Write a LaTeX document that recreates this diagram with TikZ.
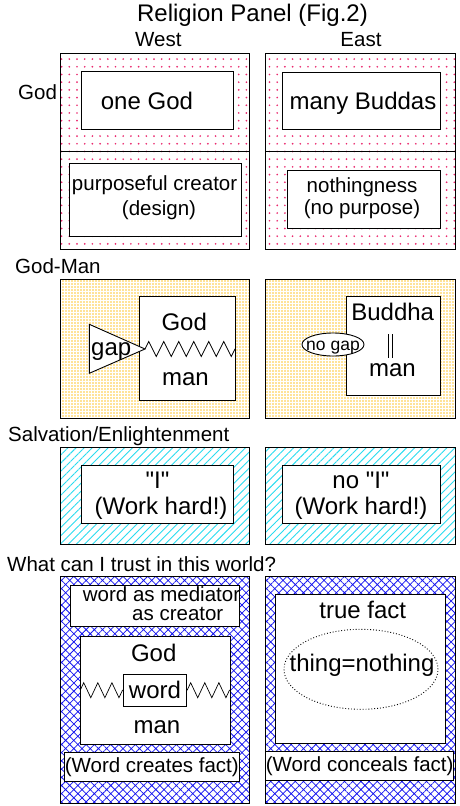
\documentclass[tikz,border=0pt]{standalone}
\usepackage{fontspec}
\setmainfont{Liberation Sans}[Ligatures=TeXOff]
\usepackage{tikz}
\usetikzlibrary{positioning}
\usetikzlibrary{shapes.geometric}
\usetikzlibrary{patterns.meta}
\usetikzlibrary{decorations.pathmorphing}

\definecolor{dotpink}{RGB}{235,40,110}
\definecolor{dotgold}{RGB}{255,200,50}
\definecolor{hatchcyan}{RGB}{40,220,240}
\definecolor{hatchblue}{RGB}{20,20,240}

\newcommand{\fbig}{\fontsize{24}{27}\selectfont}
\newcommand{\fmid}{\fontsize{20.5}{24}\selectfont}
\newcommand{\fsml}{\fontsize{17.5}{20}\selectfont}

\tikzset{
	panel/.style={draw=black,line width=0.9pt},
	pinkdots/.style={pattern={Dots[distance=7.7pt,radius=0.95pt]},pattern color=dotpink},
	golddots/.style={pattern={Dots[distance=3pt,radius=0.8pt]},pattern color=dotgold},
	cyanlines/.style={pattern={Lines[angle=45,distance=5.7pt,line width=0.9pt]},pattern color=hatchcyan},
	bluehatch/.style={pattern={Hatch[angle=45,distance=5.8pt,line width=0.75pt]},pattern color=hatchblue},
	box/.style={draw=black,fill=white,line width=0.9pt,inner sep=0pt},
	txt/.style={inner sep=0pt,anchor=base},
	zz/.style={line width=0.7pt,decorate,decoration={zigzag,segment length=#1,amplitude=7.5pt}},
}

\begin{document}
\begin{tikzpicture}[x=1pt,y=-1pt]
	\useasboundingbox[fill=white] (0,0) rectangle (459,806);

	% titles
	\node[txt] (title) at (252.5,21.5) {\fbig Religion Panel (Fig.2)};
	\node[txt] (west) at (158.3,46.5) {\fmid West};
	\node[txt] (east) at (361,46.5) {\fmid East};
	\node[txt,anchor=base west] (lblGod) at (18,99.5) {\fmid God};
	\node[txt,anchor=base west] (lblGodMan) at (15,273) {\fmid God-Man};
	\node[txt,anchor=base west] (lblSalv) at (8,441) {\fmid Salvation/Enlightenment};
	\node[txt,anchor=base west] (lblTrust) at (7,571) {\fmid What can I trust in this world?};

	% panels
	\foreach \ya/\yb/\pat in {53/249/pinkdots,279/418/golddots,447/544/cyanlines,576/803/bluehatch}{
		\draw[panel,\pat] (60,\ya) rectangle (249,\yb);
		\draw[panel,\pat] (265,\ya) rectangle (455,\yb);
	}
	\draw[panel] (60,151) -- (249,151);
	\draw[panel] (265,151) -- (455,151);

	% God
	\node[box,minimum width=151.6,minimum height=57.6] (oneGodBox) at (157.5,100.5) {};
	\node[txt,anchor=base west] (oneGod) at (100.7,109.3) {\fbig one God};
	\node[box,minimum width=158,minimum height=57] (manyBox) at (361,100.5) {};
	\node[txt] (many) at (363,109.3) {\fbig many Buddas};
	\node[box,minimum width=171.7,minimum height=72.7] (creatorBox) at (155.2,199.7) {};
	\node[txt] (creator) at (154.6,190) {\fmid purposeful creator};
	\node[txt] (design) at (159,215) {\fmid (design)};
	\node[box,minimum width=153,minimum height=58] (nothingBox) at (363.5,199) {};
	\node[txt] (nothing) at (362,192) {\fmid nothingness};
	\node[txt] (noPurpose) at (362,214) {\fmid (no purpose)};

	% God-Man
	\node[box,minimum width=95.7,minimum height=103.3] (godManBox) at (187.2,348.4) {};
	\node[txt] (godA) at (184.2,330) {\fbig God};
	\node[txt] (manA) at (185.5,385) {\fbig man};
	\coordinate (gapTip) at (145,349);
	\draw[box] (89.3,324.3) -- (gapTip) -- (89.3,373.3) -- cycle;
	\node[txt,anchor=base west] (gap) at (91,355) {\fbig gap};
	\draw[zz=15pt] (gapTip) -- (godManBox.east |- gapTip);

	\node[box,minimum width=94,minimum height=98.3] (buddhaBox) at (393,345.9) {};
	\node[txt] (buddha) at (392.7,320) {\fbig Buddha};
	\node[txt] (manB) at (392.5,376.7) {\fbig man};
	\coordinate (eqTop) at (390.5,334);
	\coordinate (eqBot) at (390.5,358);
	\draw[line width=1pt,double distance=3.5pt] (eqTop) -- (eqBot);
	\node[box,ellipse,minimum width=62,minimum height=23] (noGapOval) at (333,344.5) {};
	\node[txt] (noGap) at (333,350.5) {\fsml no gap};

	% Salvation
	\node[box,minimum width=151.6,minimum height=58.3] (iBox) at (157.5,494.2) {};
	\node[txt] (iA) at (157.5,488) {\fbig "I"};
	\node[txt] (hardA) at (161,514) {\fbig (Work hard!)};
	\node[box,minimum width=158,minimum height=58] (noIBox) at (361,494) {};
	\node[txt] (iB) at (361,488) {\fbig no "I"};
	\node[txt] (hardB) at (361,514) {\fbig (Work hard!)};

	% trust
	\node[box,minimum width=168.3,minimum height=41] (mediatorBox) at (154.8,605.5) {};
	\node[txt,anchor=base west] (mediator) at (82.7,601) {\fmid word as mediator};
	\node[txt,anchor=base west] (asCreator) at (132,620) {\fmid as creator};
	\node[box,minimum width=149.3,minimum height=108] (wordManBox) at (155.3,690) {};
	\node[txt] (godC) at (153.7,661.7) {\fbig God};
	\node[txt] (manC) at (157,733.3) {\fbig man};
	\node[box,minimum width=63.4,minimum height=31.7] (wordBox) at (155,690.2) {\fbig word};
	\draw[zz=14.1pt] (wordManBox.west |- wordBox) -- (wordBox.west);
	\draw[zz=14.1pt] (wordBox.east) -- (wordManBox.east |- wordBox);
	\node[box,minimum width=175,minimum height=28.3] (createsBox) at (151.8,766.9) {\fmid (Word creates fact)};

	\node[box,minimum width=170,minimum height=149.3] (factBox) at (360.7,668.7) {};
	\node[txt] (fact) at (362.8,618) {\fbig true fact};
	\node[draw,dotted,line width=0.9pt,ellipse,inner sep=0pt,minimum width=154,minimum height=80] (thingOval) at (361,669.3) {};
	\node[txt] (thing) at (362,671.7) {\fbig thing=nothing};
	\node[box,minimum width=187.3,minimum height=29] (concealsBox) at (359.7,766.2) {\fmid (Word conceals fact)};
\end{tikzpicture}
\end{document}
